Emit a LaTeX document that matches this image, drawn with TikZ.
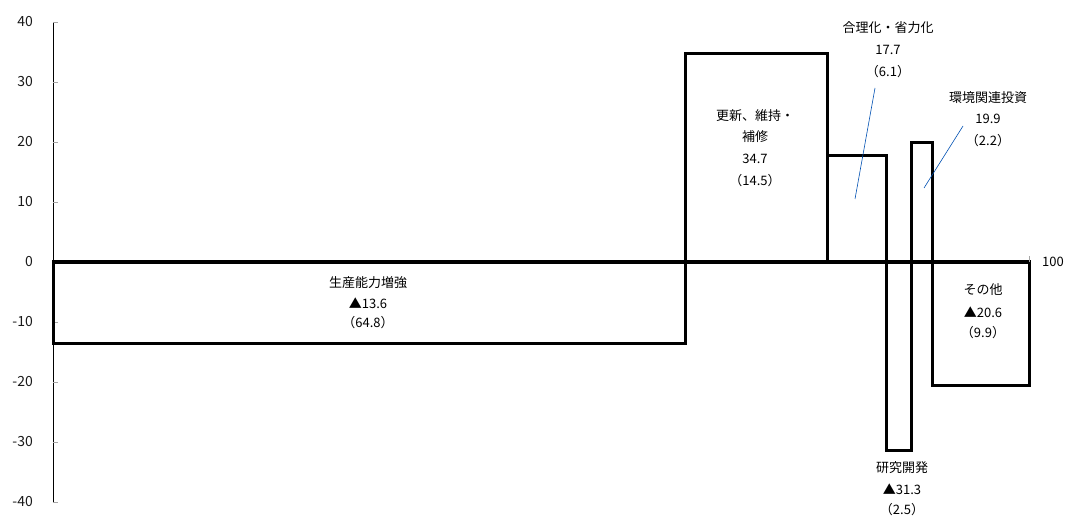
\documentclass[tikz,border=0pt]{standalone}
\usepackage{fontspec}
\setmainfont{Noto Sans CJK JP}
\begin{document}
\begin{tikzpicture}[x=1pt,y=-1pt,
  bar/.style={draw=black,line width=3pt,line join=miter},
  lbl/.style={font=\fontsize{13}{15}\selectfont,inner sep=0pt,anchor=center,text=black},
  ytl/.style={font=\fontsize{14}{16}\selectfont,inner sep=0pt,anchor=east,text=black!90},
  tick/.style={draw=black!35,line width=0.8pt},
  lead/.style={draw=blue!55!cyan!70!black,line width=0.6pt}]
\useasboundingbox (0,0) rectangle (1070,521);
% y axis
\coordinate (ytop) at (53,22);
\coordinate (ybot) at (53,502);
\draw[line width=1pt] (ytop) -- (ybot);
\foreach \v/\yy in {40/22,30/82,20/142,10/202,0/262,-10/322,-20/382,-30/442,-40/502}{
  \draw[tick] (53,\yy) -- (58,\yy);
  \node[ytl] (yl\v) at (33,\yy) {\v};
}
% bars
\draw[bar] (53,262) rectangle (685,343.6);
\draw[bar] (685,262) rectangle (827,54);
\draw[bar] (827,262) rectangle (886.5,156);
\draw[bar] (886.5,262) rectangle (911,450);
\draw[bar] (911,262) rectangle (932.6,142.6);
\draw[bar] (932.6,262) rectangle (1029,385.6);
\draw[tick] (1029,262) -- (1029,256);
\node[lbl] (x100) at (1053,262) {100};
% labels
\node[lbl] (a1) at (368,283) {生産能力増強};
\node[lbl] (a2) at (368,303) {▲13.6};
\node[lbl] (a3) at (368,323) {（64.8）};
\node[lbl] (b1) at (755,116) {更新、維持・};
\node[lbl] (b2) at (755,137) {補修};
\node[lbl] (b3) at (755,159) {34.7};
\node[lbl] (b4) at (755,181) {（14.5）};
\node[lbl] (c1) at (888,28) {合理化・省力化};
\node[lbl] (c2) at (888,50) {17.7};
\node[lbl] (c3) at (888,72) {（6.1）};
\node[lbl] (d1) at (988,98) {環境関連投資};
\node[lbl] (d2) at (988,119) {19.9};
\node[lbl] (d3) at (988,141) {（2.2）};
\node[lbl] (e1) at (983,290) {その他};
\node[lbl] (e2) at (983,312) {▲20.6};
\node[lbl] (e3) at (983,333) {（9.9）};
\node[lbl] (f1) at (902,468) {研究開発};
\node[lbl] (f2) at (902,489) {▲31.3};
\node[lbl] (f3) at (902,510) {（2.5）};
% leader lines
\coordinate (cL) at (855,199);
\coordinate (dL) at (924,188);
\draw[lead] (875,88) -- (cL);
\draw[lead] (963,126) -- (dL);
\end{tikzpicture}
\end{document}
